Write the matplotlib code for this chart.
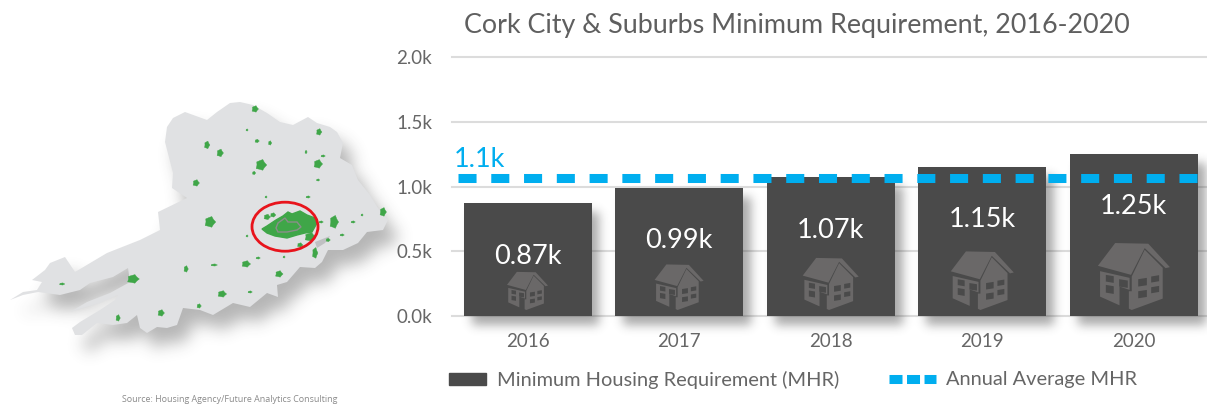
import numpy as np
import matplotlib
matplotlib.use('Agg')
import matplotlib.pyplot as plt
from matplotlib.patches import Polygon, Ellipse, Patch
from matplotlib.path import Path
from matplotlib.lines import Line2D

plt.rcParams['font.family'] = ['Lato', 'DejaVu Sans']

years = ['2016', '2017', '2018', '2019', '2020']
mhr = [0.87, 0.99, 1.07, 1.15, 1.25]
value_labels = ['0.87k', '0.99k', '1.07k', '1.15k', '1.25k']
annual_avg = 1.066
avg_label = '1.1k'
y_ticks = [0.0, 0.5, 1.0, 1.5, 2.0]
y_tick_labels = ['0.0k', '0.5k', '1.0k', '1.5k', '2.0k']
house_widths = [41, 49, 56, 63, 72]  # px

# map, in px
map_outline = [(230,103),(240,102),(253,105),(267,113),(280,122),(293,125),(308,117),(317,123),(330,127),
               (337,132),(343,143),(340,158),(352,165),(358,180),(370,195),(378,208),(388,220),(383,230),
               (367,232),(358,243),(343,250),(328,250),(322,262),(315,268),(300,267),(287,282),(277,285),
               (278,297),(267,293),(250,307),(233,303),(213,315),(200,310),(183,308),(177,325),(167,328),
               (157,327),(147,333),(140,328),(137,315),(127,323),(113,325),(97,323),(82,335),(75,335),(72,328),
               (80,322),(100,310),(115,300),(118,295),(100,303),(70,312),(87,302),(110,293),(130,282),(128,268),
               (113,277),(90,283),(80,290),(60,295),(38,292),(23,295),(10,300),(23,292),(37,290),(42,282),
               (32,280),(45,270),(50,263),(65,257),(75,272),(107,253),(140,240),(160,230),(158,212),(187,198),
               (172,188),(173,173),(165,142),(167,127),(173,118),(185,112),(207,120),(217,112)]
harbour = [(315,242),(330,236),(325,243),(317,248)]
city = [(262,229),(267,226),(276,220),(283,216),(288,212),(292,214),(300,211),(307,215),(315,218),(317,223),
        (312,232),(305,233),(297,235),(287,238),(275,236),(267,233)]
city_core = [(276,228),(278,223),(285,218),(288,222),(297,222),(301,227),(297,230),(287,232),(278,232)]
towns = [(255,109,3,3),(319,132,2.5,3),(257,141,2,1.5),(270,143,1.5,2),(247,130,1,1),(207,145,2.5,3.5),
         (220,153,3,3.5),(261,165,5,5),(254,173,1.5,1.5),(306,152,1,1.5),(323,156,2,1),(318,164,4,4),
         (318,180,1.5,1),(196,183,3,3),(266,197,1,1),(308,197,2,1),(383,212,3,4),(362,215,1,1),(353,222,2,1),
         (334,222,4,6),(210,222,5,5),(321,222,2,1),(247,236,1,1),(267,217,3,2.5),(273,215,2.5,2),(342,235,2,1),
         (328,240,2,1.5),(315,253,2.5,5),(300,245,2.5,2),(310,237,5,4),(246,264,4,3),(258,258,2,1),(214,265,3,1),
         (186,269,2,3),(284,257,1,1),(279,274,3.5,3),(133,279,5.5,4),(62,284,2.5,1),(222,294,4,3),(250,292,2,1),
         (199,306,2,2),(161,313,3,3),(118,318,2,3)]
blob_shape = [1.15, 0.85, 1.1, 0.9, 1.2, 0.8, 1.05, 0.9, 1.15, 0.85]

# house icon in a box 0..1 wide, 0 at the top
house_roof = [(0,.34),(.24,0),(.70,.01),(1,.36),(.94,.375),(.65,.075),(.46,.475)]
house_left = [(.03,.42),(.44,.52),(.44,.70),(.30,.65),(.30,.93),(.03,.80)]
house_right = [(.47,.50),(.65,.10),(.90,.37),(.90,.83),(.47,1),(.43,.98),(.43,.72),(.47,.72)]
# u0, v0, u1, v1, slope
house_windows = [(.11,.475,.22,.575,.02),(.295,.54,.415,.65,.02),(.11,.625,.22,.74,.02),
                 (.56,.54,.68,.65,-.02),(.74,.50,.85,.59,-.02),(.56,.72,.68,.825,-.02),(.74,.66,.85,.75,-.02)]

W, H = 1207, 407
fig = plt.figure(figsize=(W / 100, H / 100), dpi=100)

def blur(mask, sigma):
    k = np.arange(-3 * sigma, 3 * sigma + 1)
    k = np.exp(-k ** 2 / (2.0 * sigma ** 2))
    k = k / k.sum()
    mask = np.apply_along_axis(lambda r: np.convolve(r, k, mode='same'), 0, mask)
    return np.apply_along_axis(lambda r: np.convolve(r, k, mode='same'), 1, mask)

def shadow_rgba(mask, alpha, grey=0.2):
    out = np.full((H, W, 4), grey)
    out[..., 3] = mask * alpha
    return out

xx, yy = np.meshgrid(np.arange(W) + 0.5, np.arange(H) + 0.5)

# px overlay for the map and the icons
px = fig.add_axes([0, 0, 1, 1], zorder=0)
px.set_xlim(0, W)
px.set_ylim(H, 0)
px.axis('off')

inside = Path(map_outline).contains_points(np.c_[xx.ravel() - 10, yy.ravel() - 15]).reshape(H, W)
px.imshow(shadow_rgba(blur(inside.astype(float), 8), 0.36), extent=(0, W, H, 0), aspect='auto', interpolation='bilinear')
px.add_patch(Polygon(map_outline, closed=True, fc='#e0e1e3', ec='none'))
px.add_patch(Polygon(harbour, closed=True, fc='#bfc0c2', ec='none'))
angles = np.linspace(0, 2 * np.pi, len(blob_shape), endpoint=False)
for x0, y0, rx, ry in towns:
    blob = [(x0 + rx * s * np.cos(a), y0 + ry * s * np.sin(a)) for s, a in zip(blob_shape, angles)]
    px.add_patch(Polygon(blob, closed=True, fc='#3fa648', ec='#3fa648', lw=0.3))
px.add_patch(Polygon(city, closed=True, fc='#3fa648', ec='#3fa648', lw=1))
px.add_patch(Polygon(city_core, closed=True, fc='none', ec='#8a8f8a', lw=1))
px.add_patch(Ellipse((285, 226.7), 66, 49, fc='none', ec='#e8141c', lw=2.0))
px.text(122, 399.5, 'Source: Housing Agency/Future Analytics Consulting', fontsize=6.4, color='#8a8a8a',
        family=['Open Sans', 'DejaVu Sans'], va='center', ha='left')

# chart
ax = fig.add_axes([451.7 / W, (H - 316) / H, 758 / W, 259 / H], zorder=1)
ax.patch.set_alpha(0)
x = np.arange(len(years))
ax.set_xlim(-0.5, 4.5)
ax.set_ylim(0, 2.0)
for s in ax.spines.values():
    s.set_visible(False)
ax.set_yticks(y_ticks, y_tick_labels)
ax.set_xticks(x, years)
ax.tick_params(axis='both', length=0, labelsize=13.5, labelcolor='#666666')
ax.tick_params(axis='y', pad=14)
ax.tick_params(axis='x', pad=12)
ax.grid(axis='y', color='#dcdcdc', lw=1.5, clip_on=False)
ax.set_axisbelow(True)

bar_w = 128 / 151.6
bars = ax.bar(x, mhr, width=bar_w, color='#4a4a4a', zorder=2, clip_on=False)

# soft shadow under the bars, worked out from where the bars landed
bar_mask = np.zeros((H, W))
for b in bars:
    (x0, y0), (x1, y1) = ax.transData.transform([(b.get_x(), 0), (b.get_x() + b.get_width(), b.get_height())])
    bar_mask[(xx - 8 > x0) & (xx - 8 < x1) & (H - yy + 9 > y0) & (H - yy + 9 < y1)] = 1
corners = ax.transData.inverted().transform([(0, 0), (W, H)])
ax.imshow(shadow_rgba(blur(bar_mask, 5), 0.42), extent=(corners[0][0], corners[1][0], corners[0][1], corners[1][1]),
          aspect='auto', zorder=1.5, clip_on=False, origin='upper')
ax.set_xlim(-0.5, 4.5)
ax.set_ylim(0, 2.0)

ax.axhline(annual_avg, xmin=0.0085, xmax=0.983, color='#00aeef', lw=6.5, dashes=(2.0, 1.63), zorder=4)
ax.text(0.003, 1.21, avg_label, color='#00aeef', fontsize=19.5, transform=ax.get_yaxis_transform(),
        ha='left', va='center')

for xi, v, lab in zip(x, mhr, value_labels):
    ax.annotate(lab, (xi, v), xytext=(0, -38), textcoords='offset points', color='white', fontsize=19.5,
                ha='center', va='center', zorder=5)

fig.text(464 / W, 1 - 25 / H, 'Cork City & Suburbs Minimum Requirement, 2016-2020', fontsize=19.35,
         color='#5f5f5f', ha='left', va='center')

# house icons
house_ax = fig.add_axes([0, 0, 1, 1], zorder=2)
house_ax.set_xlim(0, W)
house_ax.set_ylim(H, 0)
house_ax.axis('off')
for xi, w in zip(x, house_widths):
    cx = ax.transData.transform((xi, 0))[0]
    h = w * 0.93
    left = cx - w / 2
    top = 310 - h
    for shape in (house_roof, house_left, house_right):
        house_ax.add_patch(Polygon([(left + u * w, top + v * h) for u, v in shape], closed=True,
                                   fc='#6a6868', ec='none'))
    for u0, v0, u1, v1, sl in house_windows:
        house_ax.add_patch(Polygon([(left + u0 * w, top + v0 * h), (left + u1 * w, top + (v0 + sl) * h),
                                    (left + u1 * w, top + (v1 + sl) * h), (left + u0 * w, top + v1 * h)],
                                   closed=True, fc='#4a4a4a', ec='none'))

leg1 = fig.legend(handles=[Patch(color='#4a4a4a', label='Minimum Housing Requirement (MHR)')], loc='center left',
                  bbox_to_anchor=(449 / W, 1 - 380 / H), frameon=False, fontsize=14.4, labelcolor='#666666',
                  handlelength=1.85, handleheight=0.55, handletextpad=0.55, borderpad=0, borderaxespad=0)
leg2 = fig.legend(handles=[Line2D([], [], color='#00aeef', lw=6.5, dashes=(1.44, 0.5), label='Annual Average MHR')],
                  loc='center left', bbox_to_anchor=(889 / W, 1 - 380 / H), frameon=False, fontsize=14.4,
                  labelcolor='#666666', handlelength=2.35, handletextpad=0.5, borderpad=0, borderaxespad=0)

fig.savefig('out.png', dpi=100)
